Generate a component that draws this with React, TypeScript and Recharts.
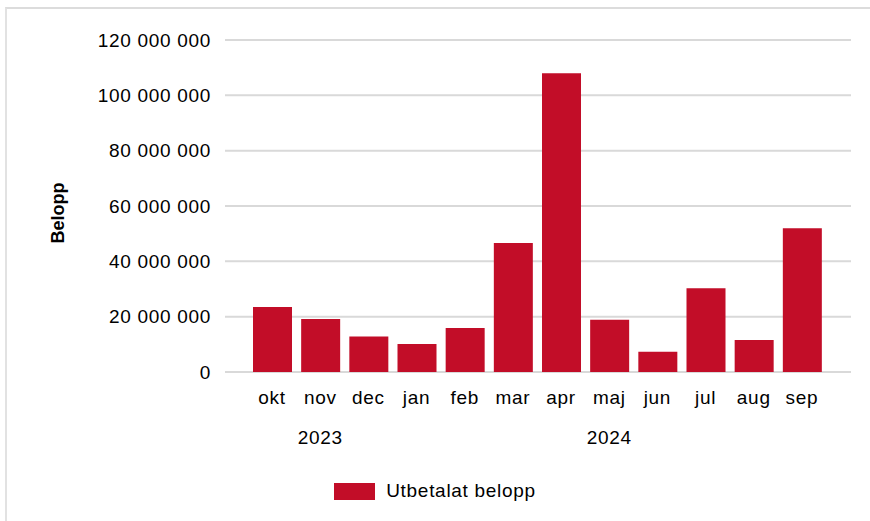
import { BarChart, Bar, XAxis, YAxis, CartesianGrid, Legend } from "recharts";

const months = ["okt", "nov", "dec", "jan", "feb", "mar", "apr", "maj", "jun", "jul", "aug", "sep"];
const years = ["2023", "2023", "2023", "2024", "2024", "2024", "2024", "2024", "2024", "2024", "2024", "2024"];
const paidOut = [23500000, 19200000, 12800000, 10100000, 15900000, 46600000, 108000000, 18900000, 7300000, 30300000, 11600000, 52000000];
const yTicks = [0, 20000000, 40000000, 60000000, 80000000, 100000000, 120000000];

const data = months.map((m, i) => ({ month: m, year: years[i], value: paidOut[i] }));

const FONT = "'Liberation Sans', Arial, sans-serif";
const RED = "#c20d28";
const TXT = { fontSize: 19, fontFamily: FONT, fill: "#000", letterSpacing: 0.7 };

function fmt(v: number) {
  return String(v).replace(/\B(?=(\d{3})+(?!\d))/g, " ");
}

// middle index of each run of equal years, where the year label goes
const yearLabelIdx = new Set<number>();
{
  let start = 0;
  for (let i = 1; i <= years.length; i++) {
    if (i === years.length || years[i] !== years[start]) {
      yearLabelIdx.add(Math.round((start + i - 1) / 2));
      start = i;
    }
  }
}

function YearTick(props: any) {
  const { x, y, payload, index } = props;
  if (!yearLabelIdx.has(index)) return null;
  return (
    <text x={x} y={y} dy="0.71em" textAnchor="middle" {...TXT}>
      {payload.value}
    </text>
  );
}

function BeloppLabel(props: any) {
  const { viewBox } = props;
  const cy = viewBox.y + viewBox.height / 2 + 7;
  return (
    <text
      x={58}
      y={cy}
      transform={`rotate(-90, 58, ${cy})`}
      textAnchor="middle"
      dominantBaseline="central"
      fontSize={18}
      fontWeight={700}
      fontFamily={FONT}
      fill="#000"
    >
      Belopp
    </text>
  );
}

function LegendContent() {
  return (
    <div style={{ display: "flex", alignItems: "center", justifyContent: "center", fontFamily: FONT }}>
      <div style={{ width: 41, height: 17, background: RED, marginRight: 11 }} />
      <span style={{ fontSize: 19, color: "#000", letterSpacing: 0.7 }}>Utbetalat belopp</span>
    </div>
  );
}

export default function App() {
  return (
    <div style={{ position: "absolute", left: 0, top: 0, width: 870, height: 521, overflow: "hidden", background: "#fff" }}>
      <div
        style={{
          position: "absolute",
          left: 5,
          top: 7,
          width: 900,
          height: 600,
          borderTop: "2px solid #dcdcdc",
          borderLeft: "2px solid #e2e2e2",
          boxSizing: "border-box",
        }}
      />
      <div style={{ position: "absolute", left: 0, top: 0 }}>
        <BarChart width={870} height={521} data={data} margin={{ top: 40, right: 19, left: 0, bottom: 69 }}>
          <CartesianGrid vertical={false} stroke="#d9d9d9" strokeWidth={2} />
          <XAxis
            dataKey="month"
            axisLine={false}
            tickLine={false}
            tickSize={0}
            tickMargin={19}
            height={40}
            interval={0}
            padding={{ left: 23, right: 25 }}
            tick={TXT}
          />
          <XAxis
            xAxisId="year"
            dataKey="year"
            axisLine={false}
            tickLine={false}
            tickSize={0}
            tickMargin={19}
            height={40}
            interval={0}
            padding={{ left: 23, right: 25 }}
            tick={<YearTick />}
          />
          <YAxis
            width={225}
            domain={[0, 120000000]}
            ticks={yTicks}
            axisLine={false}
            tickLine={false}
            tickSize={0}
            tickMargin={14}
            tickFormatter={fmt}
            tick={TXT}
            label={<BeloppLabel />}
          />
          <Legend
            verticalAlign="middle"
            align="center"
            content={<LegendContent />}
            wrapperStyle={{ position: "absolute", top: 480, left: 0, width: 870, height: 20 }}
          />
          <Bar dataKey="value" name="Utbetalat belopp" fill={RED} barSize={39} isAnimationActive={false} />
        </BarChart>
      </div>
    </div>
  );
}
